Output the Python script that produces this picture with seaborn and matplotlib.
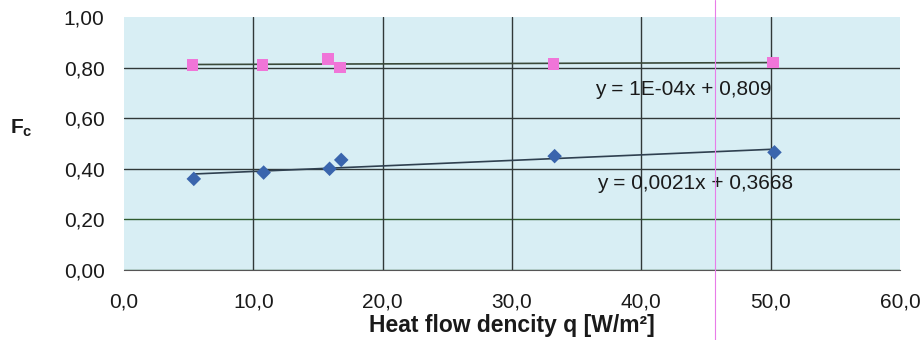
import numpy as np
import pandas as pd
import matplotlib
matplotlib.use("Agg")
import matplotlib.pyplot as plt
import seaborn as sns
from matplotlib.ticker import FuncFormatter

# values
q_pink = [5.3, 10.7, 15.8, 16.7, 33.2, 50.2]
fc_pink = [0.81, 0.81, 0.835, 0.80, 0.815, 0.82]
q_blue = [5.4, 10.8, 15.9, 16.8, 33.3, 50.3]
fc_blue = [0.36, 0.385, 0.40, 0.435, 0.45, 0.465]
eq_pink = "y = 1E-04x + 0,809"
eq_blue = "y = 0,0021x + 0,3668"
x_ticks = [0, 10, 20, 30, 40, 50, 60]
y_ticks = [0.0, 0.2, 0.4, 0.6, 0.8, 1.0]

pink = pd.DataFrame({"q": q_pink, "fc": fc_pink})
blue = pd.DataFrame({"q": q_blue, "fc": fc_blue})

sns.set_style("white")
plt.rcParams['font.family'] = ['Liberation Sans', 'DejaVu Sans']

fig = plt.figure(figsize=(9.23, 3.4), dpi=100)
ax = fig.add_axes([0.1343, 0.206, 0.975 - 0.1343, 0.95 - 0.206])
ax.set_facecolor("#d8eef4")

# trend lines (linear fit over data range)
sns.regplot(data=pink, x="q", y="fc", ci=None, truncate=True, scatter=False,
            ax=ax, line_kws={"color": "#3a4a3a", "lw": 1.2, "zorder": 3})
sns.regplot(data=blue, x="q", y="fc", ci=None, truncate=True, scatter=False,
            ax=ax, line_kws={"color": "#2f4050", "lw": 1.2, "zorder": 3})

sns.scatterplot(data=pink, x="q", y="fc", marker="s", s=70, color="#f075d8",
                edgecolor="none", ax=ax, zorder=4)
sns.scatterplot(data=blue, x="q", y="fc", marker="D", s=55, color="#3a65ad",
                edgecolor="none", ax=ax, zorder=4)

ax.set_xlim(0, 60)
ax.set_ylim(0, 1.0)
ax.set_xticks(x_ticks)
ax.set_yticks(y_ticks)
ax.xaxis.set_major_formatter(FuncFormatter(lambda v, p: f"{v:.1f}".replace(".", ",")))
ax.yaxis.set_major_formatter(FuncFormatter(lambda v, p: f"{v:.2f}".replace(".", ",")))

# grid
for yv in y_ticks[:-1]:
    col = "#2e5a2e" if yv < 0.3 else "#303838"
    ax.axhline(yv, color=col, lw=1.0, zorder=1)
for xv in x_ticks[1:-1]:
    ax.axvline(xv, color="#303838", lw=1.0, zorder=1)

for s in ["top", "right", "left"]:
    ax.spines[s].set_visible(False)
ax.spines["bottom"].set_color("#555555")
ax.tick_params(axis="x", direction="out", length=5, width=1, color="#555555",
               labelsize=15, pad=11, colors="#1a1a1a")
ax.tick_params(axis="y", length=0, labelsize=15, pad=14, colors="#1a1a1a")

ax.set_xlabel("Heat flow dencity q [W/m²]", fontsize=16.5, fontweight="bold",
              labelpad=2, color="#1a1a1a")
ax.set_ylabel("")
fig.text(0.011, 0.622, "F$_\\mathregular{c}$", fontsize=15, fontweight="bold",
         ha="left", va="center", color="#1a1a1a")

ax.text(36.4, 0.715, eq_pink, fontsize=15, ha="left", va="center", color="#1a1a1a")
ax.text(36.6, 0.34, eq_blue, fontsize=15, ha="left", va="center", color="#1a1a1a")

# scanner artefact line
fig.add_artist(plt.Line2D([715 / 923, 715 / 923], [0, 1], color="#e87ce8",
                          lw=0.8, transform=fig.transFigure))

fig.savefig("out.png", dpi=100)
